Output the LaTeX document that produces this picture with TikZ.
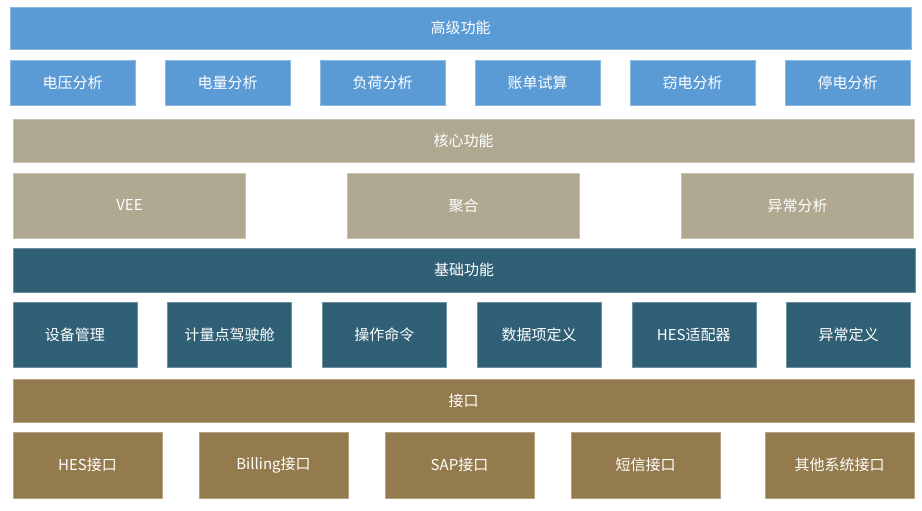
\documentclass[tikz,border=0pt]{standalone}
\usepackage{fontspec}
\setmainfont{Noto Sans CJK SC}
\definecolor{gaoji}{RGB}{91,155,213}
\definecolor{hexin}{RGB}{176,168,145}
\definecolor{jichu}{RGB}{48,96,118}
\definecolor{jiekou}{RGB}{148,123,77}
\begin{document}
\begin{tikzpicture}[x=1pt, y=-1pt, font=\fontsize{15}{17}\selectfont,
	blk/.style={fill=#1, draw=#1!70!white, line width=0.6pt, text=white, inner sep=0pt}]
	\useasboundingbox (0,0) rectangle (922,511);
	\node[blk=gaoji, minimum width=901pt, minimum height=42pt] (gaoji) at (460.5,28) {高级功能};
	\foreach \i/\x/\t in {1/72.5/电压分析, 2/227.5/电量分析, 3/382.5/负荷分析, 4/537.5/账单试算, 5/692.5/窃电分析, 6/847.5/停电分析}
		\node[blk=gaoji, minimum width=125pt, minimum height=45pt] (gj\i) at (\x,82.5) {\t};
	\node[blk=hexin, minimum width=901pt, minimum height=43pt] (hexin) at (463.5,140.5) {核心功能};
	\foreach \i/\x/\t in {1/129.5/VEE, 2/463.5/聚合, 3/797.5/异常分析}
		\node[blk=hexin, minimum width=232pt, minimum height=65pt] (hx\i) at (\x,205.5) {\t};
	\node[blk=jichu, minimum width=902pt, minimum height=44pt] (jichu) at (464,270) {基础功能};
	\foreach \i/\x/\t in {1/75/设备管理, 2/229.7/计量点驾驶舱, 3/384.4/操作命令, 4/539.1/数据项定义, 5/693.8/HES适配器, 6/848.5/异常定义}
		\node[blk=jichu, minimum width=124pt, minimum height=65pt] (jc\i) at (\x,334.5) {\t};
	\node[blk=jiekou, minimum width=901pt, minimum height=43pt] (jiekou) at (463.5,400.5) {接口};
	\foreach \i/\x/\t in {1/87.5/HES接口, 2/273.5/Billing接口, 3/459.5/SAP接口, 4/645.5/短信接口, 5/839.5/其他系统接口}
		\node[blk=jiekou, minimum width=149pt, minimum height=66pt] (jk\i) at (\x,465) {\t};
\end{tikzpicture}
\end{document}
